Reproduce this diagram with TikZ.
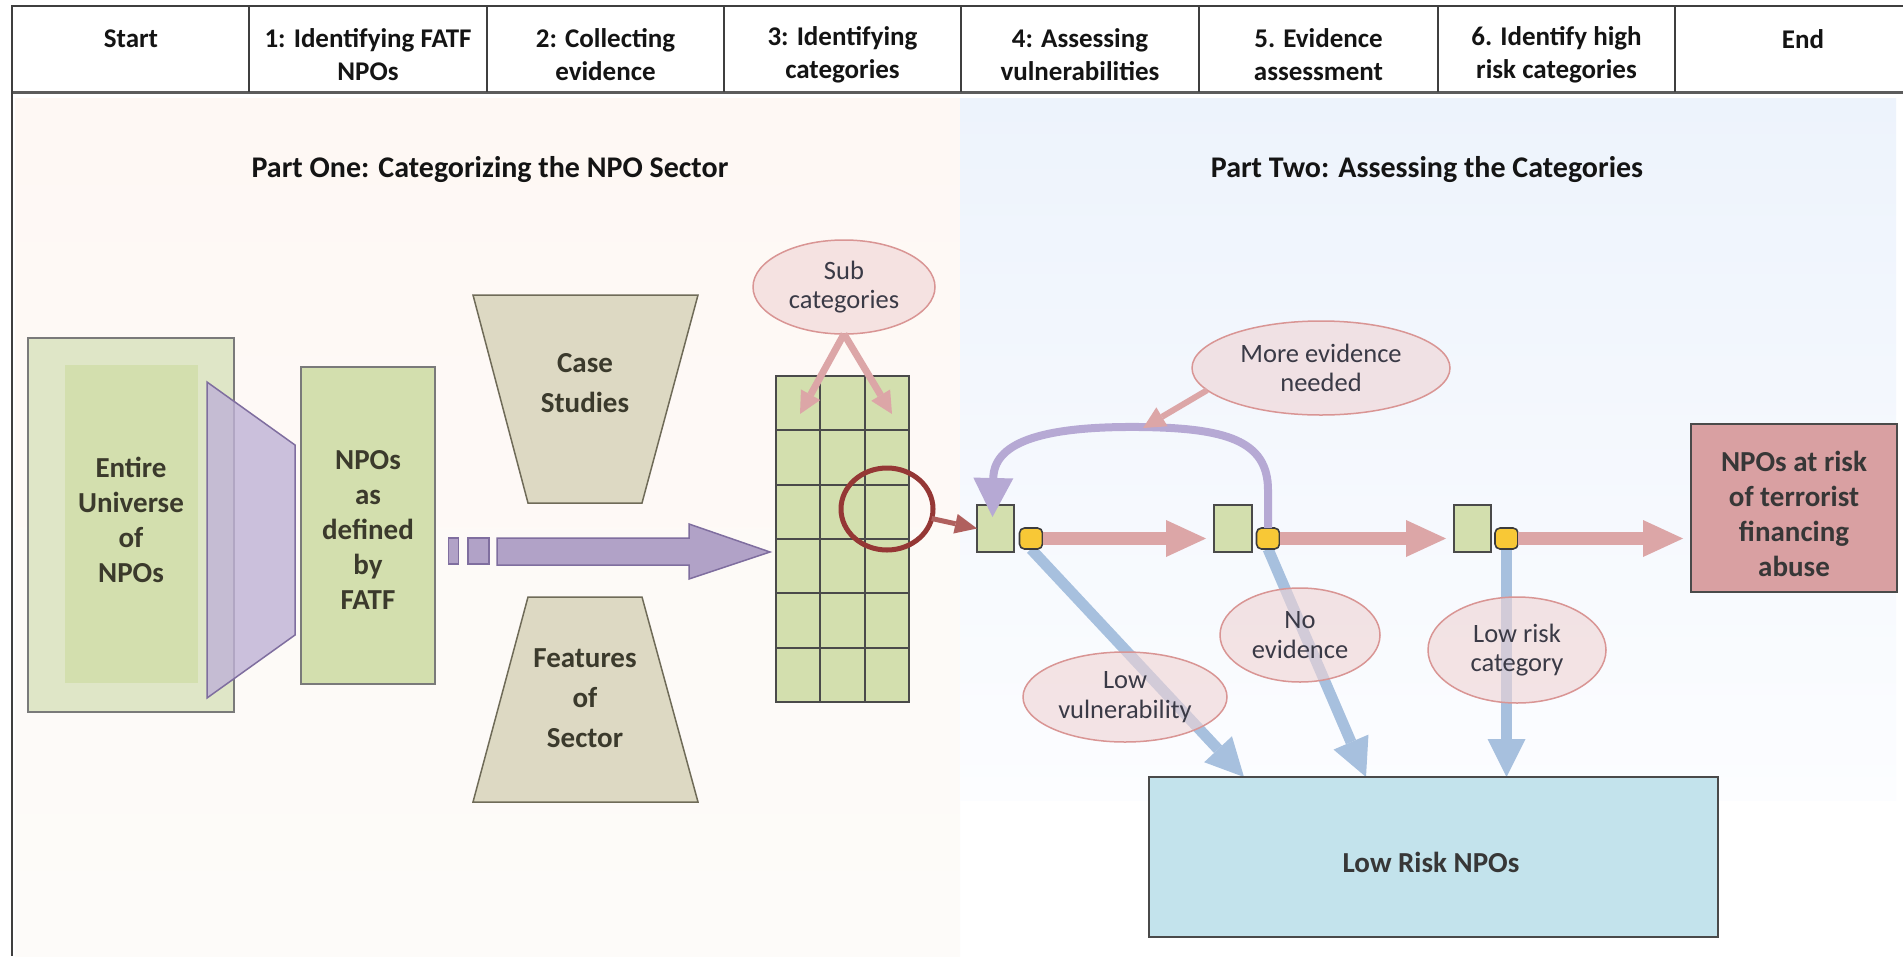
\documentclass[tikz,border=0pt]{standalone}
\usepackage{fontspec}
\setmainfont{Carlito}
\usetikzlibrary{arrows.meta,shapes.geometric,calc}

\definecolor{peachtop}{HTML}{FEF8F4}
\definecolor{peachbot}{HTML}{FDFBF9}
\definecolor{bluetop}{HTML}{EDF3FC}
\definecolor{bluebot}{HTML}{FCFDFF}
\definecolor{rulecol}{HTML}{3F3F3F}
\definecolor{inktext}{HTML}{141414}
\definecolor{boxtext}{HTML}{3B3A2C}
\definecolor{bubbletext}{HTML}{3A3A46}
\definecolor{greenpale}{HTML}{DFE6C7}
\definecolor{greenfill}{HTML}{D3DFAE}
\definecolor{boxline}{HTML}{7A7A7A}
\definecolor{darkline}{HTML}{4A4A4A}
\definecolor{khaki}{HTML}{DDD9C3}
\definecolor{khakiline}{HTML}{6F6B58}
\definecolor{funnelfill}{HTML}{BFB2D6}
\definecolor{funnelline}{HTML}{7F6E9F}
\definecolor{purplefill}{HTML}{B1A2C7}
\definecolor{loopcol}{HTML}{B6A9D4}
\definecolor{bubblefill}{HTML}{EFD3D4}
\definecolor{bubbleline}{HTML}{D99594}
\definecolor{pinkflow}{HTML}{DCA6A7}
\definecolor{ringred}{HTML}{953735}
\definecolor{linkred}{HTML}{B0605E}
\definecolor{goldfill}{HTML}{F8C836}
\definecolor{jointline}{HTML}{3C3C3C}
\definecolor{blueflow}{HTML}{A7C0DE}
\definecolor{riskfill}{HTML}{D9A0A2}
\definecolor{lowfill}{HTML}{C3E3EC}

\pgfdeclarelayer{bg}
\pgfdeclarelayer{back}
\pgfsetlayers{bg,back,main}

\begin{document}
\begin{tikzpicture}[x=1pt,y=-1pt,
  every node/.style={inner sep=0pt,outer sep=0pt},
  tablerule/.style={draw=rulecol,line width=2pt},
  hdr/.style={font=\fontsize{27}{33}\selectfont\bfseries,text=inktext,align=center},
  parttitle/.style={font=\fontsize{30}{36}\selectfont\bfseries,text=inktext},
  boxlabel/.style={font=\fontsize{29}{35}\selectfont\bfseries,text=boxtext,align=center},
  traplabel/.style={boxlabel,font=\fontsize{29}{40}\selectfont\bfseries},
  plainbox/.style={rectangle,draw=boxline,line width=1.8pt},
  bubble/.style={ellipse,draw=bubbleline,line width=1.5pt,fill=bubblefill,
    fill opacity=0.6,text opacity=1,text=bubbletext,
    font=\fontsize{26.5}{29.5}\selectfont,align=center},
  gate/.style={rectangle,draw=darkline,line width=2pt,fill=greenfill,minimum height=47pt},
  joint/.style={rectangle,rounded corners=5pt,draw=jointline,line width=1.6pt,
    fill=goldfill,minimum width=23pt,minimum height=21pt},
  flow/.style={draw=pinkflow,line width=13pt,
    -{Triangle[length=40pt,width=37pt,line width=0pt]},shorten >=8pt},
  lowflow/.style={draw=blueflow,line width=11pt,
    -{Triangle[length=38pt,width=38pt,line width=0pt]}},
  pointer/.style={draw=pinkflow,line width=7pt,
    -{Triangle[length=22pt,width=22pt,line width=0pt]}},
]
\useasboundingbox (0,0) rectangle (1903,956);

% page and the two part bands
\begin{pgfonlayer}{bg}
  \fill[white] (0,0) rectangle (1903,956);
  \shade[top color=peachtop,bottom color=peachbot] (15,98) rectangle (960,956);
  \shade[top color=bluetop,bottom color=bluebot] (960,98) rectangle (1896,800);
\end{pgfonlayer}

% stage table
\draw[tablerule] (12,6) -- (1903,6);
\draw[tablerule,line width=3pt,draw=rulecol!85] (12,92) -- (1903,92);
\draw[tablerule,line width=2.5pt] (12,5) -- (12,956);
\foreach \x in {249,487,724,961,1199,1438,1675} \draw[tablerule] (\x,6) -- (\x,92);

\node[hdr] (hstart) at (131,39) {Start};
\node[hdr] (h1) at (368,55) {1: Identifying FATF\\NPOs};
\node[hdr] (h2) at (605.5,55) {2: Collecting\\evidence};
\node[hdr] (h3) at (842.5,55) {3: Identifying\\categories};
\node[hdr] (h4) at (1080,55) {4: Assessing\\vulnerabilities};
\node[hdr] (h5) at (1318.5,55) {5. Evidence\\assessment};
\node[hdr] (h6) at (1556.5,55) {6. Identify high\\risk categories};
\node[hdr] (hend) at (1803,39) {End};

% part titles
\node[parttitle] (partone) at (490,170) {Part One: Categorizing the NPO Sector};
\node[parttitle] (parttwo) at (1427,170) {Part Two: Assessing the Categories};

% universe of NPOs and the funnel
\node[plainbox,fill=greenpale,minimum width=206pt,minimum height=374pt] (univ) at (131,525) {};
\node[rectangle,fill=greenfill,minimum width=133pt,minimum height=318pt] (univcore) at (131.5,524) {};
\node[boxlabel] (univlabel) at (131,520) {Entire\\Universe\\of\\NPOs};
\filldraw[fill=funnelfill,fill opacity=0.8,draw=funnelline,line width=1.5pt]
  (207,382) -- (295,445) -- (295,635) -- (207,698) -- cycle;

% NPOs as defined by FATF
\node[plainbox,fill=greenfill,minimum width=134pt,minimum height=317pt] (fatf) at (368,525.5) {};
\node[boxlabel] (fatflabel) at (368,530) {NPOs\\as\\defined\\by\\FATF};

% evidence sources
\filldraw[fill=khaki,draw=khakiline,line width=1.5pt]
  (473,295) -- (698,295) -- (642,503) -- (528,503) -- cycle;
\node[traplabel] (cases) at (585,383) {Case\\Studies};
\filldraw[fill=khaki,draw=khakiline,line width=1.5pt]
  (528,597) -- (642,597) -- (698,802) -- (473,802) -- cycle;
\node[traplabel] (features) at (585,698) {Features\\of\\Sector};

% dashes and the block arrow into the category grid
\node[rectangle,draw=funnelline,line width=1.5pt,fill=purplefill,minimum width=10pt,minimum height=26pt] (dashA) at (453.5,551) {};
\node[rectangle,draw=funnelline,line width=1.5pt,fill=purplefill,minimum width=21pt,minimum height=26pt] (dashB) at (478.5,551) {};
\filldraw[fill=purplefill,draw=funnelline,line width=1.5pt]
  (497,538) -- (689,538) -- (689,524) -- (770,552) -- (689,579) -- (689,565) -- (497,565) -- cycle;

% category grid
\node[rectangle,fill=greenfill,draw=darkline,line width=2pt,minimum width=133pt,minimum height=326pt] (grid) at (842.5,539) {};
\foreach \i in {1,2}
  \draw[darkline,line width=2pt] ($(grid.north west)+(\i*44.33,0)$) -- ($(grid.south west)+(\i*44.33,0)$);
\foreach \j in {1,...,5}
  \draw[darkline,line width=2pt] ($(grid.north west)+(0,\j*54.33)$) -- ($(grid.north east)+(0,\j*54.33)$);
\coordinate (cellL) at (800,414);
\coordinate (cellR) at (892,414);

% selected category
\node[ellipse,draw=ringred,line width=5pt,minimum width=92pt,minimum height=82pt] (ring) at (887,509) {};

% assessment gates
\node[gate,minimum width=37pt] (gate1) at (995.5,528.5) {};
\node[gate,minimum width=38pt] (gate2) at (1233,528.5) {};
\node[gate,minimum width=37pt] (gate3) at (1472.5,528.5) {};
\node[joint] (join1) at (1031,538.5) {};
\node[joint] (join2) at (1268,538.5) {};
\node[joint] (join3) at (1506.5,538.5) {};

% outcomes
\node[plainbox,draw=darkline,fill=riskfill,minimum width=206pt,minimum height=168pt] (risk) at (1794,508) {};
\node[boxlabel,text=inktext!85] (risklabel) at (1794,514) {NPOs at risk\\of terrorist\\financing\\abuse};
\node[plainbox,draw=darkline,fill=lowfill,minimum width=569pt,minimum height=160pt] (lowrisk) at (1433.5,857) {};
\node[boxlabel,text=inktext!85] (lowlabel) at (1431,862) {Low Risk NPOs};

% exits to low risk
\begin{pgfonlayer}{back}
  \draw[lowflow] (join1.south) -- ($(lowrisk.north west)+(95,0)$);
  \draw[lowflow] (join2.south) -- ($(lowrisk.north west)+(217,0)$);
  \draw[lowflow] (join3.south) -- (join3.south |- lowrisk.north);
\end{pgfonlayer}

% main flow
\draw[flow] (join1.east) -- (join1.east -| gate2.west);
\draw[flow] (join2.east) -- (join2.east -| gate3.west);
\draw[flow] (join3.east) -- (join3.east -| risk.west);
\draw[draw=linkred,line width=5pt,-{Triangle[length=22pt,width=20pt,line width=0pt]}] (ring.-12) -- (gate1.west);

% loop back for more evidence
\draw[draw=loopcol,line width=8pt,-{Triangle[length=39pt,width=40pt,line width=0pt]}]
  (join2.north) -- (1268,490) .. controls (1268,440) and (1225,428) .. (1140,427)
  .. controls (1035,426) and (994,445) .. ($(gate1.north)+(-3,12)$);
\coordinate (looptop) at (1143,428);

% call-outs
\node[bubble,minimum width=182pt,minimum height=94pt] (subcat) at (844,287) {Sub\\categories};
\node[bubble,minimum width=258pt,minimum height=94pt] (more) at (1321,368) {More evidence\\needed};
\node[bubble,minimum width=204pt,minimum height=90pt] (lowvul) at (1125,697) {Low\\vulnerability};
\node[bubble,minimum width=160pt,minimum height=94pt] (noev) at (1300,635) {No\\evidence};
\node[bubble,minimum width=178pt,minimum height=106pt] (lowcat) at (1517,650) {Low risk\\category};

\draw[pointer] (subcat.south) -- (cellL);
\draw[pointer] (subcat.south) -- (cellR);
\draw[pointer,line width=6pt] (more.191) -- (looptop);
\end{tikzpicture}
\end{document}
